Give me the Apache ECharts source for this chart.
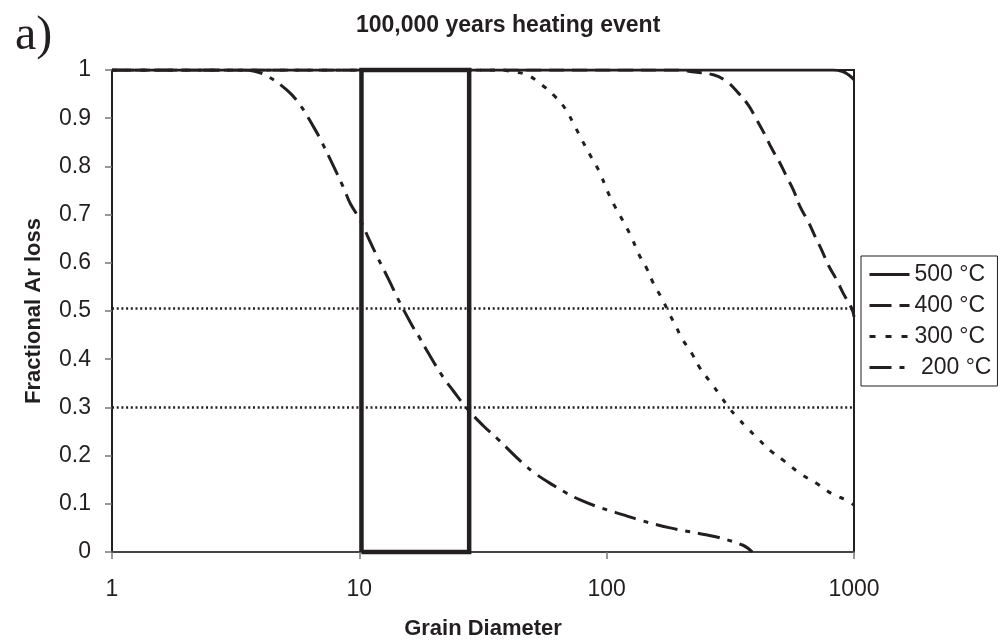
<!DOCTYPE html>
<html>
<head>
<meta charset="utf-8">
<title>100,000 years heating event</title>
<script src="https://cdn.jsdelivr.net/npm/echarts@6/dist/echarts.min.js"></script>
<style>
    html, body { margin: 0; padding: 0; background: #fff; }
    #main { width: 1000px; height: 644px; }
</style>
</head>
<body>
<div id="main"></div>
<script>
// grain diameter (x) vs fractional Ar loss (y)
var loss500 = [[1, 1], [50, 1], [300, 1], [700, 1], [820, 1], [900, 0.997], [950, 0.99], [1000, 0.98]];
var loss400 = [[1, 1], [100, 1], [200, 1], [218, 0.997], [270, 0.99], [306, 0.976], [341, 0.952], [374, 0.927],
    [405, 0.896], [437, 0.865], [465, 0.837], [503, 0.806], [535, 0.778], [569, 0.751], [606, 0.716],
    [654, 0.685], [697, 0.654], [741, 0.626], [788, 0.595], [852, 0.564], [906, 0.536], [980, 0.505], [1000, 0.488]];
var loss300 = [[1, 1], [20, 1], [38, 1], [40.7, 0.997], [47.6, 0.99], [54.7, 0.969], [61, 0.948], [68, 0.92],
    [73.4, 0.889], [79.4, 0.855], [87.1, 0.817], [94.1, 0.786], [100.2, 0.751], [108.2, 0.716], [117, 0.685],
    [126.5, 0.651], [134.5, 0.619], [145.3, 0.588], [154.6, 0.557], [167.2, 0.526], [177.8, 0.498], [192.2, 0.464],
    [201.4, 0.443], [221, 0.412], [238.8, 0.381], [262.3, 0.353], [287.6, 0.325], [310.7, 0.301], [336, 0.28],
    [374, 0.255], [411, 0.234], [458, 0.211], [518.6, 0.19], [605.6, 0.163], [707.5, 0.142], [813, 0.121],
    [949, 0.106], [1000, 0.097]];
var loss200 = [[1, 1], [2, 1], [3.4, 1], [3.73, 0.998], [4.23, 0.988], [5.1, 0.958], [5.77, 0.927], [6.53, 0.882],
    [7.06, 0.85], [8.63, 0.756], [9.19, 0.723], [10.08, 0.689], [10.89, 0.651], [11.6, 0.621], [13.3, 0.56],
    [14.2, 0.529], [16.3, 0.471], [17.6, 0.443], [18.8, 0.417], [21.8, 0.363], [24, 0.334], [27.2, 0.298],
    [31.7, 0.262], [36, 0.236], [45.4, 0.186], [51.4, 0.163], [58, 0.145], [69, 0.122], [78.2, 0.108],
    [94.1, 0.092], [118.8, 0.076], [136.5, 0.066], [180.6, 0.05], [238.8, 0.038], [279, 0.031], [356, 0.014], [388, 0]];

// horizontal reference levels and the highlighted grain-size window
var refLevels = [0.505, 0.3];
var boxX = [10.2, 27.8];
var boxY = [0, 1];

var seriesNames = ['500 °C', '400 °C', '300 °C', ' 200 °C'];
var yTicks = [0, 0.1, 0.2, 0.3, 0.4, 0.5, 0.6, 0.7, 0.8, 0.9, 1];

var ink = '#231f20';
var font = 'Liberation Sans, Arial, sans-serif';

var chart = echarts.init(document.getElementById('main'), null, {renderer: 'canvas'});

function curve(name, data, dash) {
    return {
        name: name,
        type: 'line',
        data: data,
        smooth: 0.4,
        symbol: 'none',
        clip: true,
        lineStyle: {color: ink, width: 3, type: dash, cap: 'butt'},
        itemStyle: {color: ink},
        z: 3
    }
}

var series = [
    curve(seriesNames[0], loss500, 'solid'),
    curve(seriesNames[1], loss400, [15, 8]),
    curve(seriesNames[2], loss300, [5, 9]),
    curve(seriesNames[3], loss200, [22, 8, 5, 8])
];

refLevels.forEach(function (v, i) {
    series.push({
        name: 'ref' + i,
        type: 'line',
        data: [[1, v], [1000, v]],
        symbol: 'none',
        silent: true,
        lineStyle: {color: ink, width: 2.5, type: [2, 2.7]},
        z: 2
    });
});

series.push({
    name: 'window',
    type: 'line',
    data: [[boxX[0], boxY[0]], [boxX[0], boxY[1]], [boxX[1], boxY[1]], [boxX[1], boxY[0]], [boxX[0], boxY[0]]],
    symbol: 'none',
    clip: false,
    silent: true,
    lineStyle: {color: ink, width: 4.5, join: 'miter'},
    z: 4
});

// legend keys: line only, no marker
function key(name, dash) {
    return {name: name, itemStyle: {opacity: 0, borderWidth: 0}, lineStyle: {type: dash, width: 3, cap: 'butt'}}
}

let option = {
    animation: false,
    backgroundColor: '#fff',
    title: {
        text: '100,000 years heating event',
        left: 356,
        top: 14,
        padding: 0,
        textStyle: {fontFamily: font, fontSize: 23, fontWeight: 'bold', color: ink, lineHeight: 23}
    },
    graphic: [{
        type: 'text',
        left: 15,
        top: 12,
        style: {text: 'a)', font: '48px "Liberation Serif", "Times New Roman", serif', fill: ink}
    }],
    legend: {
        orient: 'vertical',
        left: 861,
        top: 256,
        padding: [7, 6, 7, 7],
        itemWidth: 40,
        itemHeight: 14,
        itemGap: 8,
        borderColor: ink,
        borderWidth: 1,
        selectedMode: false,
        textStyle: {fontFamily: font, fontSize: 23, color: ink, lineHeight: 23},
        data: [
            key(seriesNames[0], 'solid'),
            key(seriesNames[1], [22, 8]),
            key(seriesNames[2], [6, 10]),
            key(seriesNames[3], [22, 8, 5, 100])
        ]
    },
    grid: {
        left: 112,
        right: 146,
        top: 70,
        bottom: 92,
        outerBoundsMode: 'none',
        show: true,
        borderColor: ink,
        borderWidth: 2
    },
    xAxis: {
        type: 'log',
        logBase: 10,
        min: 1,
        max: 1000,
        name: 'Grain Diameter',
        nameLocation: 'middle',
        nameGap: 66,
        nameTextStyle: {fontFamily: font, fontSize: 22, fontWeight: 'bold', color: ink},
        axisLine: {lineStyle: {color: '#444', width: 2}},
        axisTick: {length: 7, lineStyle: {color: '#777', width: 1.5}},
        axisLabel: {
            fontFamily: font, fontSize: 23, color: ink, margin: 26,
            formatter: function (v) { return String(Math.round(v)) }
        },
        splitLine: {show: false},
        minorTick: {show: false}
    },
    yAxis: {
        type: 'value',
        min: yTicks[0],
        max: yTicks[yTicks.length - 1],
        interval: 0.1,
        name: 'Fractional Ar loss',
        nameLocation: 'middle',
        nameRotate: 90,
        nameGap: 67,
        nameTextStyle: {fontFamily: font, fontSize: 22, fontWeight: 'bold', color: ink},
        axisLine: {show: true, lineStyle: {color: ink, width: 2}},
        axisTick: {show: true, length: 7, lineStyle: {color: '#777', width: 1.5}},
        axisLabel: {fontFamily: font, fontSize: 23, color: ink, margin: 21},
        splitLine: {show: false}
    },
    series: series
}

chart.setOption(option)
</script>
</body>
</html>
